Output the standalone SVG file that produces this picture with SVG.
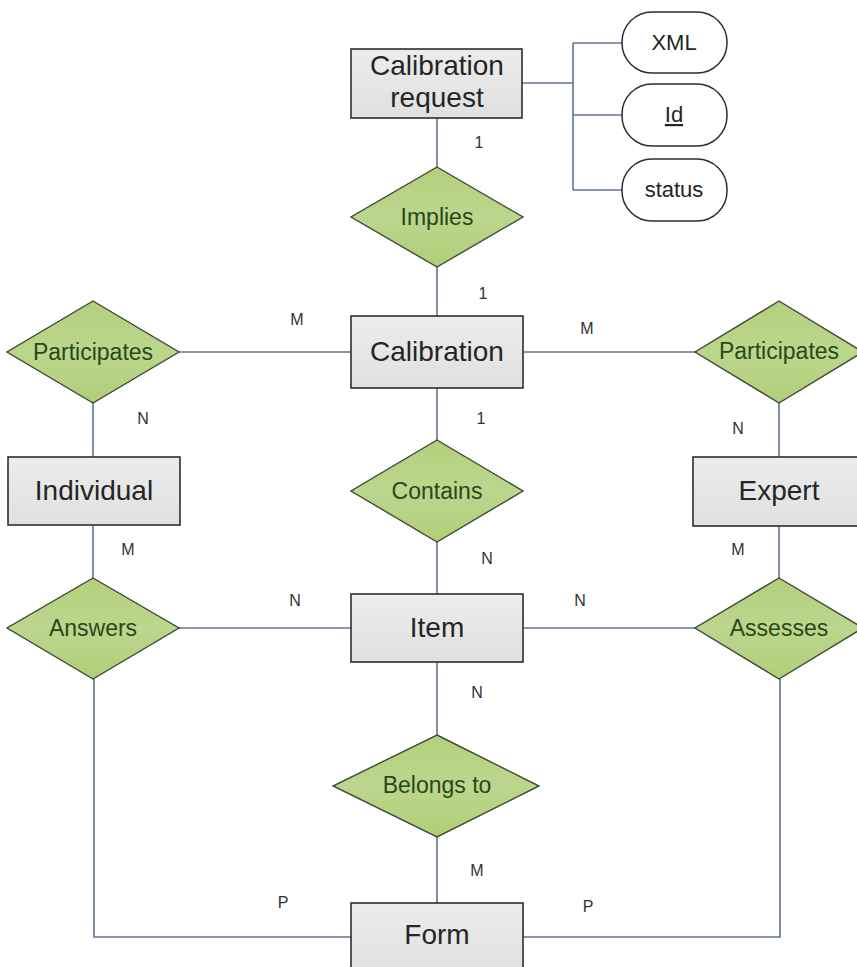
<svg xmlns="http://www.w3.org/2000/svg" width="857" height="967" viewBox="0 0 857 967">
<defs>
<linearGradient id="gBox" x1="0" y1="0" x2="0" y2="1">
<stop offset="0" stop-color="#ececec"/>
<stop offset="1" stop-color="#e0e0e0"/>
</linearGradient>
<linearGradient id="gDia" x1="0" y1="0" x2="0" y2="1">
<stop offset="0" stop-color="#b3d07c"/>
<stop offset="0.5" stop-color="#bcd68d"/>
<stop offset="1" stop-color="#b0ce78"/>
</linearGradient>
<style>
.ent{fill:url(#gBox);stroke:#2e2e2e;stroke-width:1.6}
.rel{fill:url(#gDia);stroke:#3c4a36;stroke-width:1.4}
.att{fill:#ffffff;stroke:#2e2e2e;stroke-width:1.5}
.et{font-family:"Liberation Sans",Arial,sans-serif;font-size:28px;fill:#252525;text-anchor:middle}
.rt{font-family:"Liberation Sans",Arial,sans-serif;font-size:23px;fill:#284818;text-anchor:middle}
.at{font-family:"Liberation Sans",Arial,sans-serif;font-size:22px;fill:#252525;text-anchor:middle}
.lb{font-family:"Liberation Sans",Arial,sans-serif;font-size:16px;fill:#333333;text-anchor:middle}
.cn{fill:none;stroke:#60758f;stroke-width:1.6}
</style>
</defs>
<rect width="857" height="967" fill="#ffffff"/>

<g id="connectors">
<line class="cn" x1="522" y1="83" x2="573" y2="83"/>
<line class="cn" x1="573" y1="43" x2="573" y2="190"/>
<line class="cn" x1="573" y1="43" x2="622" y2="43"/>
<line class="cn" x1="573" y1="115" x2="622" y2="115"/>
<line class="cn" x1="573" y1="190" x2="622" y2="190"/>
<line class="cn" x1="437" y1="118" x2="437" y2="167"/>
<line class="cn" x1="437" y1="267" x2="437" y2="316"/>
<line class="cn" x1="437" y1="388" x2="437" y2="440"/>
<line class="cn" x1="437" y1="542" x2="437" y2="594"/>
<line class="cn" x1="437" y1="662" x2="437" y2="735"/>
<line class="cn" x1="437" y1="837" x2="437" y2="903"/>
<line class="cn" x1="179" y1="352" x2="351" y2="352"/>
<line class="cn" x1="523" y1="352" x2="695" y2="352"/>
<line class="cn" x1="93" y1="403" x2="93" y2="457"/>
<line class="cn" x1="93" y1="525" x2="93" y2="578"/>
<line class="cn" x1="779" y1="403" x2="779" y2="457"/>
<line class="cn" x1="779" y1="526" x2="779" y2="578"/>
<line class="cn" x1="179" y1="628" x2="351" y2="628"/>
<line class="cn" x1="523" y1="628" x2="695" y2="628"/>
<polyline class="cn" points="94,679 94,937 351,937"/>
<polyline class="cn" points="780,679 780,937 523,937"/>
</g>

<g id="calibration-request">
<rect class="ent" x="351" y="49" width="171" height="69"/>
<text class="et" x="437" y="75">Calibration</text>
<text class="et" x="437" y="107">request</text>
</g>
<g id="attr-xml">
<rect class="att" x="622" y="12" width="105" height="61" rx="30" ry="30"/>
<text class="at" x="674" y="50">XML</text>
</g>
<g id="attr-id">
<rect class="att" x="622" y="84" width="105" height="62" rx="30" ry="30"/>
<text class="at" x="674" y="122" text-decoration="underline">Id</text>
</g>
<g id="attr-status">
<rect class="att" x="622" y="159" width="105" height="62" rx="30" ry="30"/>
<text class="at" x="674" y="197">status</text>
</g>

<g id="implies">
<polygon class="rel" points="437,167 523,217 437,267 351,217"/>
<text class="rt" x="437" y="225">Implies</text>
</g>

<g id="calibration">
<rect class="ent" x="351" y="316" width="172" height="72"/>
<text class="et" x="437" y="361">Calibration</text>
</g>

<g id="participates-left">
<polygon class="rel" points="93,301 179,352 93,403 7,352"/>
<text class="rt" x="93" y="360">Participates</text>
</g>

<g id="participates-right">
<polygon class="rel" points="779,301 863,352 779,403 695,352"/>
<text class="rt" x="779" y="359">Participates</text>
</g>

<g id="individual">
<rect class="ent" x="8" y="457" width="172" height="68"/>
<text class="et" x="94" y="500">Individual</text>
</g>

<g id="expert">
<rect class="ent" x="693" y="457" width="172" height="69"/>
<text class="et" x="779" y="500">Expert</text>
</g>

<g id="contains">
<polygon class="rel" points="437,440 523,491 437,542 351,491"/>
<text class="rt" x="437" y="499">Contains</text>
</g>

<g id="answers">
<polygon class="rel" points="93,578 179,628 93,679 7,628"/>
<text class="rt" x="93" y="636">Answers</text>
</g>

<g id="item">
<rect class="ent" x="351" y="594" width="172" height="68"/>
<text class="et" x="437" y="637">Item</text>
</g>

<g id="assesses">
<polygon class="rel" points="779,578 863,628 779,679 695,628"/>
<text class="rt" x="779" y="636">Assesses</text>
</g>

<g id="belongs-to">
<polygon class="rel" points="437,735 539,786 437,837 333,786"/>
<text class="rt" x="437" y="793">Belongs to</text>
</g>

<g id="form">
<rect class="ent" x="351" y="903" width="172" height="70"/>
<text class="et" x="437" y="944">Form</text>
</g>

<g id="labels">
<text class="lb" x="479" y="148">1</text>
<text class="lb" x="483" y="299">1</text>
<text class="lb" x="297" y="325">M</text>
<text class="lb" x="587" y="334">M</text>
<text class="lb" x="143" y="424">N</text>
<text class="lb" x="481" y="424">1</text>
<text class="lb" x="738" y="434">N</text>
<text class="lb" x="128" y="555">M</text>
<text class="lb" x="487" y="564">N</text>
<text class="lb" x="738" y="555">M</text>
<text class="lb" x="295" y="606">N</text>
<text class="lb" x="580" y="606">N</text>
<text class="lb" x="477" y="698">N</text>
<text class="lb" x="477" y="876">M</text>
<text class="lb" x="283" y="908">P</text>
<text class="lb" x="588" y="912">P</text>
</g>
</svg>
